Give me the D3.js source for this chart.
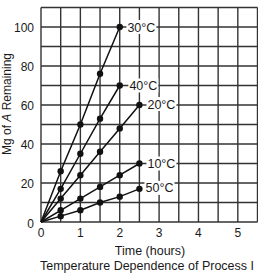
<!DOCTYPE html>
<html>
<head>
<meta charset="utf-8">
<script src="https://cdn.jsdelivr.net/npm/d3@7"></script>
<style>
body { margin: 0; background: #fff; }
text { font-family: "Liberation Sans", Arial, sans-serif; fill: #1a1a1a; }
</style>
</head>
<body>
<div id="chart"></div>
<script>
var hours = [0, 0.5, 1, 1.5, 2, 2.5];
var xTicks = [0, 1, 2, 3, 4, 5];
var yTicks = [0, 20, 40, 60, 80, 100];
var labels = ["30°C", "40°C", "20°C", "10°C", "50°C"];
var t30 = [0, 26, 50, 76, 100];
var t40 = [0, 17, 35, 53, 70];
var t20 = [0, 12, 24, 36, 48, 60];
var t10 = [0, 6, 12, 18, 24, 30];
var t50 = [0, 3, 6, 10, 13, 17];
var series = [t30, t40, t20, t10, t50];
// label centres, in data units (x hours, y mg)
var labelX = [2.55, 2.6, 3.06, 3.06, 3.01];
var labelY = [100, 70, 60.5, 30, 17.5];

var width = 258, height = 277;
var x = d3.scaleLinear().domain([0, 5.5]).range([41, 257.5]);
var y = d3.scaleLinear().domain([0, 110]).range([222, 7.5]);

var svg = d3.select("#chart").append("svg")
    .attr("width", width)
    .attr("height", height);

// grid every 0.5 h and 10 mg
var gx = d3.range(0, 5.51, 0.5), gy = d3.range(0, 111, 10);
svg.append("g").selectAll("line").data(gx).enter().append("line")
    .attr("x1", function(d) { return x(d); })
    .attr("x2", function(d) { return x(d); })
    .attr("y1", y(0)).attr("y2", y(110))
    .attr("stroke", "#333").attr("stroke-width", 1.4);
svg.append("g").selectAll("line").data(gy).enter().append("line")
    .attr("y1", function(d) { return y(d); })
    .attr("y2", function(d) { return y(d); })
    .attr("x1", x(0)).attr("x2", x(5.5))
    .attr("stroke", "#333").attr("stroke-width", 1.4);

// tick labels
svg.append("g").selectAll("text").data(yTicks).enter().append("text")
    .attr("x", 34)
    .attr("y", function(d) { return y(d) + (d === 0 ? 6 : 4.5); })
    .attr("text-anchor", "end")
    .style("font-size", "12px")
    .text(function(d) { return d; });
svg.append("g").selectAll("text").data(xTicks).enter().append("text")
    .attr("x", function(d) { return x(d); })
    .attr("y", 237)
    .attr("text-anchor", "middle")
    .style("font-size", "12px")
    .text(function(d) { return d; });

// lines and points
var line = d3.line()
    .x(function(d, i) { return x(hours[i]); })
    .y(function(d) { return y(d); });
series.forEach(function(s) {
    svg.append("path").datum(s)
        .attr("d", line)
        .attr("fill", "none")
        .attr("stroke", "#111")
        .attr("stroke-width", 1.5);
    svg.append("g").selectAll("circle").data(s.slice(1)).enter().append("circle")
        .attr("cx", function(d, i) { return x(hours[i + 1]); })
        .attr("cy", function(d) { return y(d); })
        .attr("r", 3.2)
        .attr("fill", "#111");
});

// series labels with white background
labels.forEach(function(l, i) {
    var cx = x(labelX[i]), cy = y(labelY[i]);
    svg.append("rect")
        .attr("x", cx - 15).attr("y", cy - 7)
        .attr("width", 30).attr("height", 14)
        .attr("fill", "#fff");
    svg.append("text")
        .attr("x", cx).attr("y", cy + 4.5)
        .attr("text-anchor", "middle")
        .style("font-size", "12.5px")
        .text(l);
});

// axis titles
svg.append("text")
    .attr("x", 150).attr("y", 255)
    .attr("text-anchor", "middle")
    .style("font-size", "12.5px")
    .text("Time (hours)");
svg.append("text")
    .attr("x", 147).attr("y", 270)
    .attr("text-anchor", "middle")
    .style("font-size", "12.5px")
    .text("Temperature Dependence of Process I");
var yt = svg.append("text")
    .attr("transform", "translate(11,104) rotate(-90)")
    .attr("text-anchor", "middle")
    .style("font-size", "12px");
yt.append("tspan").text("Mg of ");
yt.append("tspan").style("font-style", "italic").text("A");
yt.append("tspan").text(" Remaining");
</script>
</body>
</html>
